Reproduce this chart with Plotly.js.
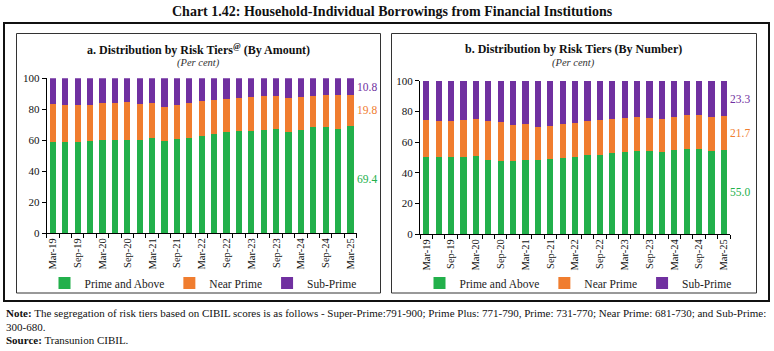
<!DOCTYPE html>
<html>
<head>
<meta charset="utf-8">
<script src="https://cdn.plot.ly/plotly-3.0.1.min.js"></script>
<style>html,body{margin:0;padding:0;background:#fff;}#chart{width:774px;height:351px;}</style>
</head>
<body>
<div id="chart"></div>
<script>
const quarters = ['Mar-19','Jun-19','Sep-19','Dec-19','Mar-20','Jun-20','Sep-20','Dec-20','Mar-21','Jun-21','Sep-21','Dec-21','Mar-22','Jun-22','Sep-22','Dec-22','Mar-23','Jun-23','Sep-23','Dec-23','Mar-24','Jun-24','Sep-24','Dec-24','Mar-25'];
const seriesNames = ['Prime and Above', 'Near Prime', 'Sub-Prime'];

// Panel a: by amount (per cent)
const amtPrime = [58.9,59.0,59.0,59.6,60.4,60.4,60.4,60.4,61.5,59.4,60.9,61.7,62.8,63.9,65.0,65.8,66.2,66.9,67.3,65.6,66.9,68.6,68.8,67.3,69.4];
const amtNear  = [24.3,23.5,23.5,23.4,23.4,23.6,24.1,22.8,22.5,22.3,22.1,22.3,22.5,22.0,21.9,21.7,21.8,21.5,21.1,21.7,21.1,20.2,20.7,21.7,19.8];
const amtSub   = [16.8,17.5,17.5,17.0,16.2,16.0,15.5,16.8,16.0,18.3,17.0,16.0,14.7,14.1,13.1,12.5,12.0,11.6,11.6,12.7,12.0,11.2,10.5,11.0,10.8];

// Panel b: by number (per cent)
const numPrime = [50.2,50.4,50.4,50.2,50.8,48.5,47.6,47.6,48.5,48.0,48.7,49.8,50.4,51.5,51.8,52.6,53.3,53.9,54.4,53.7,55.0,55.6,55.6,54.4,55.0];
const numNear  = [24.2,23.5,23.1,23.9,24.0,25.4,25.2,23.7,23.4,21.8,22.0,21.7,22.2,22.0,22.6,22.4,22.6,22.4,21.5,21.5,21.3,22.0,22.0,21.9,21.7];
const numSub   = [25.6,26.1,26.5,25.9,25.2,26.1,27.2,28.7,28.1,30.2,29.3,28.5,27.4,26.5,25.6,25.0,24.1,23.7,24.1,24.8,23.7,22.4,22.4,23.7,23.3];

const yTicks = [0, 20, 40, 60, 80, 100];

const colors = ['#22B04B', '#F07D2F', '#7030A0'];
const FONT = 'Liberation Serif, Times New Roman, serif';
const W = 774, H = 351;
const px = v => v / W;
const py = v => 1 - v / H;

const xIdx = quarters.map((_, i) => i);
const tickIdx = xIdx.filter(i => i % 2 === 0);
const tickTxt = tickIdx.map(i => quarters[i]);

function panelTraces(vals, xa, ya, legendId) {
  return vals.map((v, k) => ({
    type: 'bar', x: xIdx, y: v, name: seriesNames[k],
    xaxis: xa, yaxis: ya, legend: legendId,
    marker: {color: colors[k], line: {width: 0}},
    hoverinfo: 'skip'
  }));
}

const data = [
  ...panelTraces([amtPrime, amtNear, amtSub], 'x', 'y', 'legend'),
  ...panelTraces([numPrime, numNear, numSub], 'x2', 'y2', 'legend2')
];

function xAxis(domain, anchor) {
  return {
    domain: domain, anchor: anchor, range: [-0.5, quarters.length - 0.5],
    tickmode: 'array', tickvals: tickIdx, ticktext: tickTxt, tickangle: -90,
    ticks: '', showline: true, linecolor: '#000', linewidth: 1,
    showgrid: false, zeroline: false,
    tickfont: {family: FONT, size: 10.5, color: '#111'},
    minor: {tick0: -0.5, dtick: 1, ticks: 'outside', ticklen: 4, tickcolor: '#000', showgrid: false}
  };
}
function yAxis(domain, anchor) {
  return {
    domain: domain, anchor: anchor, range: [0, 100],
    tickmode: 'array', tickvals: yTicks, ticks: 'outside', ticklen: 4, tickcolor: '#000',
    showline: true, linecolor: '#000', linewidth: 1, showgrid: false, zeroline: false,
    tickfont: {family: FONT, size: 11, color: '#111'}
  };
}

function endLabels(vals, xa, ya) {
  const last = quarters.length - 1;
  let base = 0;
  return vals.map((v, k) => {
    const val = v[last];
    const mid = base + val / 2;
    base += val;
    return {
      x: last, y: mid, xref: xa, yref: ya, text: val.toFixed(1),
      showarrow: false, xanchor: 'left', yanchor: 'middle', xshift: 4,
      font: {family: FONT, size: 11.5, color: colors[k]}
    };
  });
}

function paperText(x, y, text, size, anchor, extra) {
  return Object.assign({x: px(x), y: py(y), xref: 'paper', yref: 'paper', showarrow: false,
    xanchor: anchor, yanchor: 'middle', text: text,
    font: {family: FONT, size: size, color: '#111'}}, extra || {});
}

const annotations = [
  paperText(392, 12, '<b>Chart 1.42: Household-Individual Borrowings from Financial Institutions</b>', 14, 'center'),
  paperText(198.5, 49.5, '<b>a. Distribution by Risk Tiers<sup>@</sup> (By Amount)</b>', 12, 'center'),
  paperText(198.5, 63.5, '<i>(Per cent)</i>', 10.5, 'center', {font: {family: FONT, size: 10.5, color: '#333'}}),
  paperText(573.5, 49.5, '<b>b. Distribution by Risk Tiers (By Number)</b>', 12, 'center'),
  paperText(573.5, 63.5, '<i>(Per cent)</i>', 10.5, 'center', {font: {family: FONT, size: 10.5, color: '#333'}}),
  paperText(4, 313, '<b>Note:</b> The segregation of risk tiers based on CIBIL scores is as follows - Super-Prime:791-900; Prime Plus: 771-790, Prime: 731-770; Near Prime: 681-730; and Sub-Prime:', 11, 'left'),
  paperText(4, 326.5, '300-680.', 11, 'left'),
  paperText(4, 340, '<b>Source:</b> Transunion CIBIL.', 11, 'left'),
  ...endLabels([amtPrime, amtNear, amtSub], 'x', 'y'),
  ...endLabels([numPrime, numNear, numSub], 'x2', 'y2')
];

const shapes = [
  {type: 'rect', xref: 'paper', yref: 'paper', x0: px(4), x1: px(769), y0: py(23), y1: py(301),
   line: {color: '#111', width: 2}},
  {type: 'rect', xref: 'paper', yref: 'paper', x0: px(16.5), x1: px(380.5), y0: py(33.5), y1: py(293),
   line: {color: '#333', width: 1}},
  {type: 'rect', xref: 'paper', yref: 'paper', x0: px(391.5), x1: px(756.5), y0: py(33.5), y1: py(293),
   line: {color: '#333', width: 1}}
];

const legendBase = {
  orientation: 'h', xanchor: 'center', yanchor: 'middle', y: py(283),
  font: {family: FONT, size: 11.5, color: '#222'}, bgcolor: 'rgba(0,0,0,0)',
  itemwidth: 30, tracegroupgap: 0, traceorder: 'normal'
};

const layout = {
  width: W, height: H, margin: {l: 0, r: 0, t: 0, b: 0},
  paper_bgcolor: '#fff', plot_bgcolor: '#fff',
  barmode: 'stack', bargap: 0.5,
  xaxis: xAxis([px(46.7), px(356.7)], 'y'),
  yaxis: yAxis([py(233), py(78.3)], 'x'),
  xaxis2: xAxis([px(420), px(730)], 'y2'),
  yaxis2: yAxis([py(234), py(80.7)], 'x2'),
  legend: Object.assign({}, legendBase, {x: px(203)}),
  legend2: Object.assign({}, legendBase, {x: px(578)}),
  annotations: annotations,
  shapes: shapes,
  showlegend: true
};

Plotly.newPlot('chart', data, layout, {displayModeBar: false, staticPlot: true});
</script>
</body>
</html>
